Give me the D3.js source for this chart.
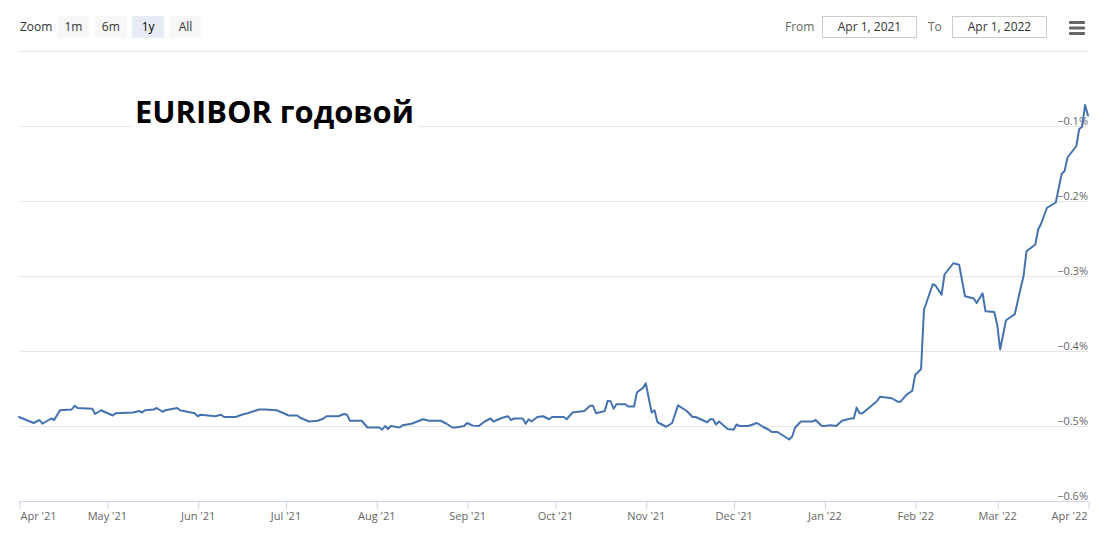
<!DOCTYPE html>
<html>
<head>
<meta charset="utf-8">
<script src="https://cdn.jsdelivr.net/npm/d3@7"></script>
<style>
  html, body { margin: 0; padding: 0; background: #fff; }
  svg { display: block; font-family: "Open Sans", "DejaVu Sans", sans-serif; }
</style>
</head>
<body>
<svg id="chart" width="1106" height="538"></svg>
<script>
// ---------- DATA ----------
const title = "EURIBOR годовой";
const zoomButtons = ["1m", "6m", "1y", "All"];
const selectedButton = "1y";
const fromDate = "Apr 1, 2021";
const toDate = "Apr 1, 2022";

const dates = [
  "2021-04-01","2021-04-06","2021-04-08","2021-04-09","2021-04-12","2021-04-13","2021-04-15","2021-04-19","2021-04-20","2021-04-21",
  "2021-04-26","2021-04-27","2021-04-29","2021-05-03","2021-05-04","2021-05-10","2021-05-12","2021-05-13","2021-05-14","2021-05-17",
  "2021-05-18","2021-05-20","2021-05-21","2021-05-25","2021-05-26","2021-05-31","2021-06-01","2021-06-02","2021-06-07","2021-06-09",
  "2021-06-10","2021-06-14","2021-06-16","2021-06-18","2021-06-22","2021-06-24","2021-06-28","2021-07-01","2021-07-02","2021-07-05",
  "2021-07-06","2021-07-09","2021-07-12","2021-07-14","2021-07-15","2021-07-16","2021-07-19","2021-07-21","2021-07-22","2021-07-23",
  "2021-07-27","2021-07-29","2021-08-02","2021-08-03","2021-08-04","2021-08-05","2021-08-06","2021-08-09","2021-08-10","2021-08-13",
  "2021-08-17","2021-08-19","2021-08-23","2021-08-25","2021-08-27","2021-08-28","2021-08-31","2021-09-01","2021-09-03","2021-09-05",
  "2021-09-07","2021-09-09","2021-09-10","2021-09-13","2021-09-15","2021-09-16","2021-09-17","2021-09-20","2021-09-21","2021-09-22",
  "2021-09-23","2021-09-25","2021-09-27","2021-09-29","2021-09-30","2021-10-04","2021-10-05","2021-10-07","2021-10-11","2021-10-13",
  "2021-10-14","2021-10-15","2021-10-18","2021-10-19","2021-10-20","2021-10-21","2021-10-22","2021-10-25","2021-10-26","2021-10-28",
  "2021-10-29","2021-10-31","2021-11-01","2021-11-03","2021-11-04","2021-11-05","2021-11-08","2021-11-10","2021-11-12","2021-11-15",
  "2021-11-17","2021-11-18","2021-11-22","2021-11-23","2021-11-24","2021-11-25","2021-11-26","2021-11-29","2021-12-01","2021-12-02",
  "2021-12-03","2021-12-06","2021-12-09","2021-12-11","2021-12-13","2021-12-14","2021-12-16","2021-12-20","2021-12-21","2021-12-22",
  "2021-12-24","2021-12-27","2021-12-28","2021-12-29","2021-12-31","2022-01-01","2022-01-03","2022-01-05","2022-01-07","2022-01-10",
  "2022-01-11","2022-01-12","2022-01-13","2022-01-14","2022-01-18","2022-01-19","2022-01-20","2022-01-24","2022-01-26","2022-01-27",
  "2022-01-29","2022-01-31","2022-02-01","2022-02-03","2022-02-04","2022-02-07","2022-02-08","2022-02-10","2022-02-11","2022-02-14",
  "2022-02-16","2022-02-18","2022-02-21","2022-02-22","2022-02-24","2022-02-25","2022-02-28","2022-03-01","2022-03-02","2022-03-04",
  "2022-03-07","2022-03-09","2022-03-10","2022-03-11","2022-03-14","2022-03-15","2022-03-16","2022-03-18","2022-03-21","2022-03-23",
  "2022-03-24","2022-03-25","2022-03-28","2022-03-29","2022-03-30","2022-03-31","2022-04-01"
];
const rates = [
  -0.488,-0.496,-0.492,-0.497,-0.490,-0.492,-0.479,-0.478,-0.473,-0.476,
  -0.477,-0.484,-0.479,-0.486,-0.483,-0.482,-0.480,-0.482,-0.479,-0.478,
  -0.476,-0.481,-0.479,-0.476,-0.479,-0.483,-0.487,-0.485,-0.487,-0.485,
  -0.488,-0.488,-0.485,-0.483,-0.478,-0.478,-0.479,-0.484,-0.486,-0.486,
  -0.489,-0.494,-0.493,-0.490,-0.487,-0.487,-0.487,-0.484,-0.485,-0.493,
  -0.493,-0.502,-0.502,-0.505,-0.500,-0.504,-0.500,-0.502,-0.499,-0.497,
  -0.491,-0.493,-0.493,-0.497,-0.502,-0.502,-0.500,-0.496,-0.4995,-0.500,
  -0.494,-0.490,-0.494,-0.489,-0.487,-0.492,-0.490,-0.490,-0.497,-0.491,
  -0.494,-0.488,-0.487,-0.491,-0.488,-0.488,-0.491,-0.482,-0.480,-0.473,
  -0.473,-0.483,-0.480,-0.4665,-0.467,-0.477,-0.471,-0.471,-0.474,-0.474,
  -0.455,-0.4495,-0.443,-0.482,-0.479,-0.495,-0.501,-0.496,-0.4725,-0.480,
  -0.488,-0.488,-0.495,-0.491,-0.491,-0.498,-0.494,-0.504,-0.505,-0.498,
  -0.500,-0.500,-0.496,-0.501,-0.505,-0.508,-0.508,-0.518,-0.514,-0.502,
  -0.494,-0.494,-0.494,-0.492,-0.4996,-0.500,-0.499,-0.500,-0.493,-0.490,
  -0.490,-0.4755,-0.483,-0.483,-0.470,-0.4665,-0.461,-0.463,-0.4675,-0.4675,
  -0.4585,-0.453,-0.432,-0.424,-0.345,-0.311,-0.313,-0.325,-0.298,-0.283,
  -0.285,-0.327,-0.330,-0.336,-0.323,-0.347,-0.348,-0.365,-0.398,-0.359,
  -0.351,-0.316,-0.300,-0.267,-0.258,-0.238,-0.230,-0.209,-0.202,-0.164,
  -0.160,-0.142,-0.127,-0.104,-0.101,-0.072,-0.086
];

const xTickDates = ["2021-04-01","2021-05-01","2021-06-01","2021-07-01","2021-08-01","2021-09-01","2021-10-01",
                    "2021-11-01","2021-12-01","2022-01-01","2022-02-01","2022-03-01","2022-04-01"];
const xTickLabels = ["Apr '21","May '21","Jun '21","Jul '21","Aug '21","Sep '21","Oct '21",
                     "Nov '21","Dec '21","Jan '22","Feb '22","Mar '22","Apr '22"];
const yTickValues = [0, -0.1, -0.2, -0.3, -0.4, -0.5, -0.6];
const yTickLabels = ["", "−0.1%", "−0.2%", "−0.3%", "−0.4%", "−0.5%", "−0.6%"];

// ---------- CHART ----------
const parse = d3.utcParse("%Y-%m-%d");
const series = dates.map((d, i) => ({ date: parse(d), value: rates[i] }));

const plot = { left: 19, right: 1088, top: 51, bottom: 501 };
const x = d3.scaleUtc().domain([parse("2021-04-01"), parse("2022-04-01")]).range([plot.left, plot.right]);
const y = d3.scaleLinear().domain([-0.6, 0]).range([plot.bottom, plot.top]);

const svg = d3.select("#chart");
svg.append("rect").attr("width", 1106).attr("height", 538).attr("fill", "#fff");

// Grid lines
const grid = svg.append("g");
grid.selectAll("line").data(yTickValues.filter(v => v !== -0.6)).join("line")
  .attr("x1", plot.left).attr("x2", plot.right)
  .attr("y1", d => Math.round(y(d)) + 0.5).attr("y2", d => Math.round(y(d)) + 0.5)
  .attr("stroke", "#e6e6e6").attr("stroke-width", 1);

// X axis
const xAxisG = svg.append("g").attr("transform", `translate(0,${plot.bottom})`);
const xAxis = d3.axisBottom(x)
  .tickValues(xTickDates.map(parse))
  .tickFormat((d, i) => xTickLabels[i])
  .tickSizeInner(8).tickSizeOuter(0).tickPadding(4);
xAxisG.call(xAxis);
xAxisG.select(".domain").attr("stroke", "#ccd6eb").attr("d", `M${plot.left},0.5H${plot.right}`);
xAxisG.selectAll(".tick line").attr("stroke", "#ccd6eb").attr("transform", "translate(0.5,0)");
xAxisG.selectAll(".tick text")
  .attr("fill", "#666").attr("font-size", "11px")
  .attr("font-family", "'Open Sans', sans-serif")
  .attr("y", 11).attr("dy", "0.71em");
const xTexts = xAxisG.selectAll(".tick text").nodes();
d3.select(xTexts[0]).attr("text-anchor", "start").attr("x", 1);
d3.select(xTexts[xTexts.length - 1]).attr("text-anchor", "end").attr("x", -1);

// Y axis labels (right, above grid lines)
const yAxisG = svg.append("g").attr("transform", `translate(${plot.right},0)`);
const yAxis = d3.axisRight(y).tickValues(yTickValues)
  .tickFormat((d, i) => yTickLabels[i]).tickSize(0).tickPadding(0);
yAxisG.call(yAxis);
yAxisG.select(".domain").remove();
yAxisG.selectAll(".tick text")
  .attr("text-anchor", "end").attr("x", 0).attr("dy", "-2")
  .attr("fill", "#666").attr("font-size", "11px")
  .attr("font-family", "'Open Sans', sans-serif");

// Title with white backing box
const titleG = svg.append("g");
const titleBg = titleG.append("rect").attr("fill", "#fff");
const titleText = titleG.append("text")
  .attr("x", 135).attr("y", 123)
  .attr("font-family", "'Open Sans', sans-serif")
  .attr("font-weight", 700).attr("font-size", 30)
  .attr("fill", "#000").text(title);
const tw = titleText.node().getComputedTextLength();
const targetW = 279;
titleText.attr("font-size", 30 * targetW / tw);
titleBg.attr("x", 133).attr("y", 94).attr("width", targetW + 6).attr("height", 37);

// Line series
const line = d3.line().x(d => x(d.date)).y(d => y(d.value)).curve(d3.curveLinear);
svg.append("path").datum(series)
  .attr("d", line).attr("fill", "none")
  .attr("stroke", "#4473b0").attr("stroke-width", 2)
  .attr("stroke-linejoin", "round").attr("stroke-linecap", "round");

// ---------- Range selector toolbar ----------
const tb = svg.append("g").attr("font-family", "'Open Sans', sans-serif").attr("font-size", "12px");
tb.append("text").attr("x", 20).attr("y", 31).attr("fill", "#333").text("Zoom");
const btnX = d3.scalePoint().domain(zoomButtons).range([57.5, 169.5]);
const btn = tb.selectAll("g.btn").data(zoomButtons).join("g").attr("class", "btn")
  .attr("transform", d => `translate(${btnX(d)},16)`);
btn.append("rect").attr("width", 32).attr("height", 22)
  .attr("fill", d => d === selectedButton ? "#e6ebf5" : "#f7f7f7");
btn.append("text").attr("x", 16).attr("y", 15).attr("text-anchor", "middle")
  .attr("fill", d => d === selectedButton ? "#000" : "#333").text(d => d);

tb.append("text").attr("x", 785).attr("y", 31).attr("fill", "#666").text("From");
tb.append("rect").attr("x", 822.5).attr("y", 16.5).attr("width", 94).attr("height", 21)
  .attr("fill", "#fff").attr("stroke", "#ccc");
tb.append("text").attr("x", 869.5).attr("y", 31).attr("text-anchor", "middle").attr("fill", "#333").text(fromDate);
tb.append("text").attr("x", 928).attr("y", 31).attr("fill", "#666").text("To");
tb.append("rect").attr("x", 952.5).attr("y", 16.5).attr("width", 94).attr("height", 21)
  .attr("fill", "#fff").attr("stroke", "#ccc");
tb.append("text").attr("x", 999.5).attr("y", 31).attr("text-anchor", "middle").attr("fill", "#333").text(toDate);

// Context menu icon
const menu = svg.append("g").attr("transform", "translate(1069,21)");
[0, 5.5, 11].forEach(dy => {
  menu.append("rect").attr("x", 0).attr("y", dy).attr("width", 16).attr("height", 3)
    .attr("rx", 1).attr("fill", "#666");
});
</script>
</body>
</html>
